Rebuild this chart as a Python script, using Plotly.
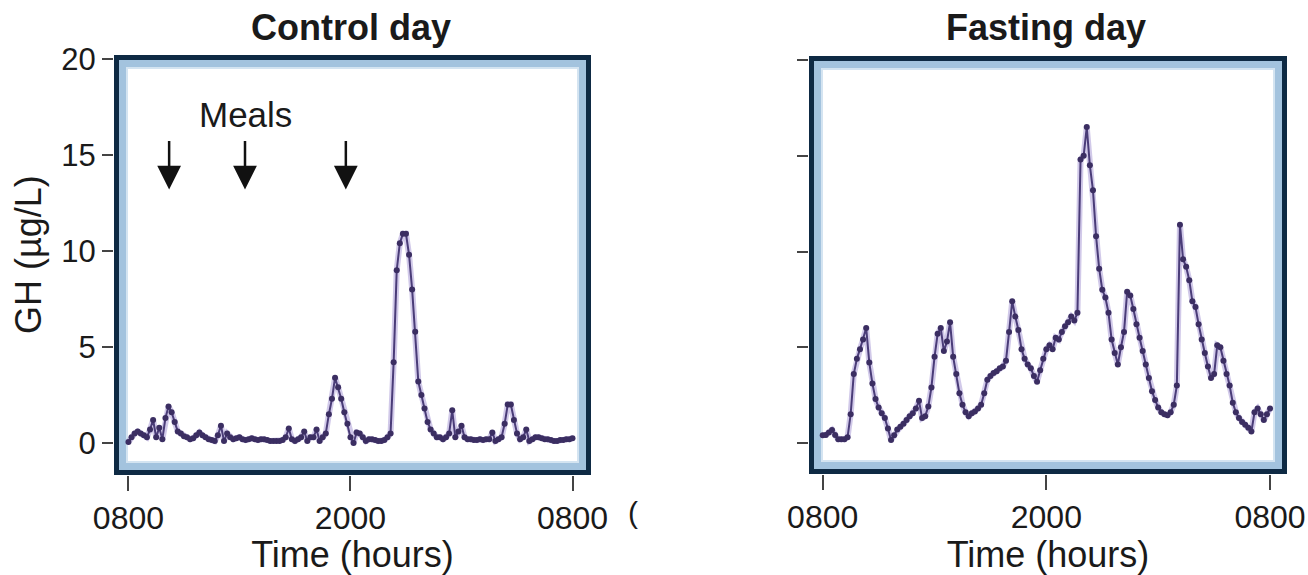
import plotly.graph_objects as go

# ---------------- data ----------------
# sampling schedule: every 10 minutes from 0800 to 0800 next day (hours after 0800)
sample_minutes = list(range(0, 1441, 10))
hours = [m / 60 for m in sample_minutes]

control_gh = [
    0.05, 0.3, 0.5, 0.6, 0.5, 0.4, 0.3, 0.7, 1.2, 0.3, 0.8, 0.2,
    1.3, 1.9, 1.6, 1.1, 0.6, 0.5, 0.35, 0.3, 0.2, 0.25, 0.4, 0.55,
    0.4, 0.3, 0.2, 0.15, 0.1, 0.4, 0.9, 0.1, 0.5, 0.3, 0.2, 0.25,
    0.3, 0.2, 0.15, 0.2, 0.25, 0.2, 0.15, 0.2, 0.2, 0.15, 0.1, 0.1,
    0.1, 0.1, 0.15, 0.3, 0.75, 0.2, 0.1, 0.2, 0.3, 0.6, 0.1, 0.3,
    0.3, 0.7, 0.1, 0.3, 0.5, 1.5, 2.3, 3.4, 2.9, 2.3, 1.6, 1.0,
    0.3, 0.0, 0.55, 0.5, 0.3, 0.1, 0.2, 0.2, 0.15, 0.1, 0.1, 0.15,
    0.3, 0.5, 4.2, 9.0, 10.4, 10.9, 10.9, 9.8, 8.0, 5.8, 3.2, 2.5,
    1.8, 1.1, 0.7, 0.5, 0.3, 0.3, 0.2, 0.3, 0.5, 1.7, 0.3, 0.6,
    0.9, 0.3, 0.2, 0.2, 0.15, 0.15, 0.2, 0.15, 0.2, 0.2, 0.55, 0.1,
    0.2, 0.3, 1.0, 2.0, 2.0, 1.2, 0.5, 0.2, 0.3, 0.7, 0.1, 0.2,
    0.3, 0.3, 0.25, 0.2, 0.2, 0.15, 0.1, 0.1, 0.15, 0.15, 0.2, 0.2,
    0.25,
]

fasting_gh = [
    0.4, 0.42, 0.55, 0.68, 0.42, 0.2, 0.2, 0.2, 0.3, 1.5, 3.6, 4.4,
    4.9, 5.4, 6.0, 4.2, 3.1, 2.3, 1.85, 1.55, 1.3, 0.75, 0.15, 0.4,
    0.7, 0.85, 1.0, 1.2, 1.4, 1.55, 1.8, 2.2, 1.3, 1.4, 1.9, 2.9,
    4.5, 5.7, 6.0, 4.8, 5.3, 6.3, 4.5, 3.6, 2.6, 2.0, 1.6, 1.4,
    1.55, 1.65, 1.8, 2.0, 2.6, 3.3, 3.5, 3.65, 3.75, 3.9, 4.0, 4.3,
    5.8, 7.4, 6.6, 5.9, 4.9, 4.4, 4.1, 3.9, 3.5, 3.2, 3.8, 4.4,
    4.9, 5.1, 4.9, 5.5, 5.4, 5.8, 6.1, 6.3, 6.6, 6.4, 6.8, 14.8,
    15.0, 16.5, 14.5, 13.2, 10.8, 9.1, 8.0, 7.6, 6.8, 5.4, 4.7, 4.1,
    5.0, 5.8, 7.9, 7.7, 7.0, 6.2, 5.5, 4.8, 4.1, 3.4, 2.7, 2.25,
    1.85, 1.6, 1.5, 1.45, 1.6, 2.0, 3.0, 11.4, 9.6, 9.2, 8.5, 7.4,
    7.1, 6.2, 5.4, 4.7, 4.0, 3.4, 3.6, 5.1, 5.0, 4.3, 3.6, 3.0,
    2.1, 1.6, 1.3, 1.1, 0.95, 0.8, 0.6, 1.6, 1.8, 1.5, 1.2, 1.5,
    1.8,
]

meal_times = [2.2, 6.3, 11.75]          # hours after 0800
x_tick_vals = [0, 12, 24]
x_tick_text = ["0800", "2000", "0800"]
y_tick_vals = [0, 5, 10, 15, 20]
panel_titles = ["Control day", "Fasting day"]

# ---------------- styling ----------------
W, H = 1308, 575
FONT = "Liberation Sans, Arial, Helvetica, sans-serif"
TXT = "#1a1a1a"
LINE_C = "#4a3c78"
MARK_C = "#3b2e62"
HALO_C = "rgba(140,120,200,0.40)"
NAVY = "#0e2a44"
LIGHT = "#a3c3de"
PALE = "#d4e4f1"

boxes = [(114, 55, 591, 475), (809, 56, 1287, 474)]   # outer frame in px (l, t, r, b)

fig = go.Figure()

for k, (vals, xa, ya) in enumerate([(control_gh, "x", "y"), (fasting_gh, "x2", "y2")]):
    fig.add_trace(go.Scatter(x=hours, y=vals, xaxis=xa, yaxis=ya, mode="lines",
                             line=dict(color=HALO_C, width=6), hoverinfo="skip",
                             showlegend=False))
    fig.add_trace(go.Scatter(x=hours, y=vals, xaxis=xa, yaxis=ya, mode="lines+markers",
                             line=dict(color=LINE_C, width=2),
                             marker=dict(size=6, color=MARK_C),
                             name=panel_titles[k], showlegend=False))


def dom_x(b):
    return [b[0] / W, b[2] / W]


def dom_y(b):
    return [1 - b[3] / H, 1 - b[1] / H]


xcommon = dict(tickvals=x_tick_vals, ticktext=x_tick_text, ticks="outside", ticklen=15,
               tickwidth=1.5, tickcolor="#444", showgrid=False, zeroline=False,
               showline=False, automargin=False,
               tickfont=dict(family=FONT, size=32, color=TXT),
               title=dict(text="Time (hours)", font=dict(family=FONT, size=36, color=TXT),
                          standoff=0))
ycommon = dict(tickvals=y_tick_vals, ticks="outside", ticklen=11, tickwidth=1.5,
               tickcolor="#444", showgrid=False, zeroline=False, showline=False,
               automargin=False, tickfont=dict(family=FONT, size=31, color=TXT))

fig.update_layout(
    width=W, height=H, margin=dict(l=0, r=0, t=0, b=0, autoexpand=False),
    paper_bgcolor="white", plot_bgcolor="white", showlegend=False,
    xaxis=dict(domain=dom_x(boxes[0]), range=[-0.78, 25.0], anchor="y", **xcommon),
    yaxis=dict(domain=dom_y(boxes[0]), range=[-1.667, 20.21], anchor="x", **ycommon),
    xaxis2=dict(domain=dom_x(boxes[1]), range=[-0.735, 24.91], anchor="y2", **xcommon),
    yaxis2=dict(domain=dom_y(boxes[1]), range=[-1.62, 20.21], anchor="x2",
                showticklabels=False, **ycommon),
)

# frames: dark outer border + light blue inner band
shapes = []
for (l, t, r, b) in boxes:
    for inset, width, color in [(2.5, 5, NAVY), (8.5, 7, LIGHT), (13, 2, PALE)]:
        shapes.append(dict(type="rect", xref="paper", yref="paper",
                           x0=(l + inset) / W, x1=(r - inset) / W,
                           y0=1 - (b - inset) / H, y1=1 - (t + inset) / H,
                           line=dict(color=color, width=width), fillcolor="rgba(0,0,0,0)",
                           layer="below"))
fig.update_layout(shapes=shapes)

ann = []
# y-axis title
ann.append(dict(text="GH (µg/L)", x=28 / W, y=1 - 255 / H, xref="paper", yref="paper",
                showarrow=False, textangle=-90, xanchor="center", yanchor="middle",
                font=dict(family=FONT, size=36, color=TXT)))
# panel titles
for title, (l, t, r, b) in zip(panel_titles, boxes):
    ann.append(dict(text="<b>%s</b>" % title, x=((l + r) / 2 - 2) / W, y=1 - 28 / H,
                    xref="paper", yref="paper", showarrow=False, xanchor="center",
                    yanchor="middle", font=dict(family=FONT, size=36, color=TXT)))
# meals label and arrows
ann.append(dict(text="Meals", x=6.35, y=17.1, xref="x", yref="y", showarrow=False,
                xanchor="center", yanchor="middle", font=dict(family=FONT, size=35, color=TXT)))
for mt in meal_times:
    ann.append(dict(text="", x=mt, y=13.2, xref="x", yref="y", ax=0, ay=-50,
                    showarrow=True, arrowhead=2, arrowsize=1.9, arrowwidth=2.5,
                    arrowcolor="#111"))
# clipped glyph at the right of the left panel's axis labels
ann.append(dict(text="(", x=633 / W, y=1 - 512 / H, xref="paper", yref="paper",
                showarrow=False, xanchor="center", yanchor="middle",
                font=dict(family=FONT, size=30, color=TXT)))
fig.update_layout(annotations=ann)

fig.write_html("out.html", config={"displayModeBar": False},
               post_script="document.body.style.margin='0px';document.body.style.overflow='hidden';")
